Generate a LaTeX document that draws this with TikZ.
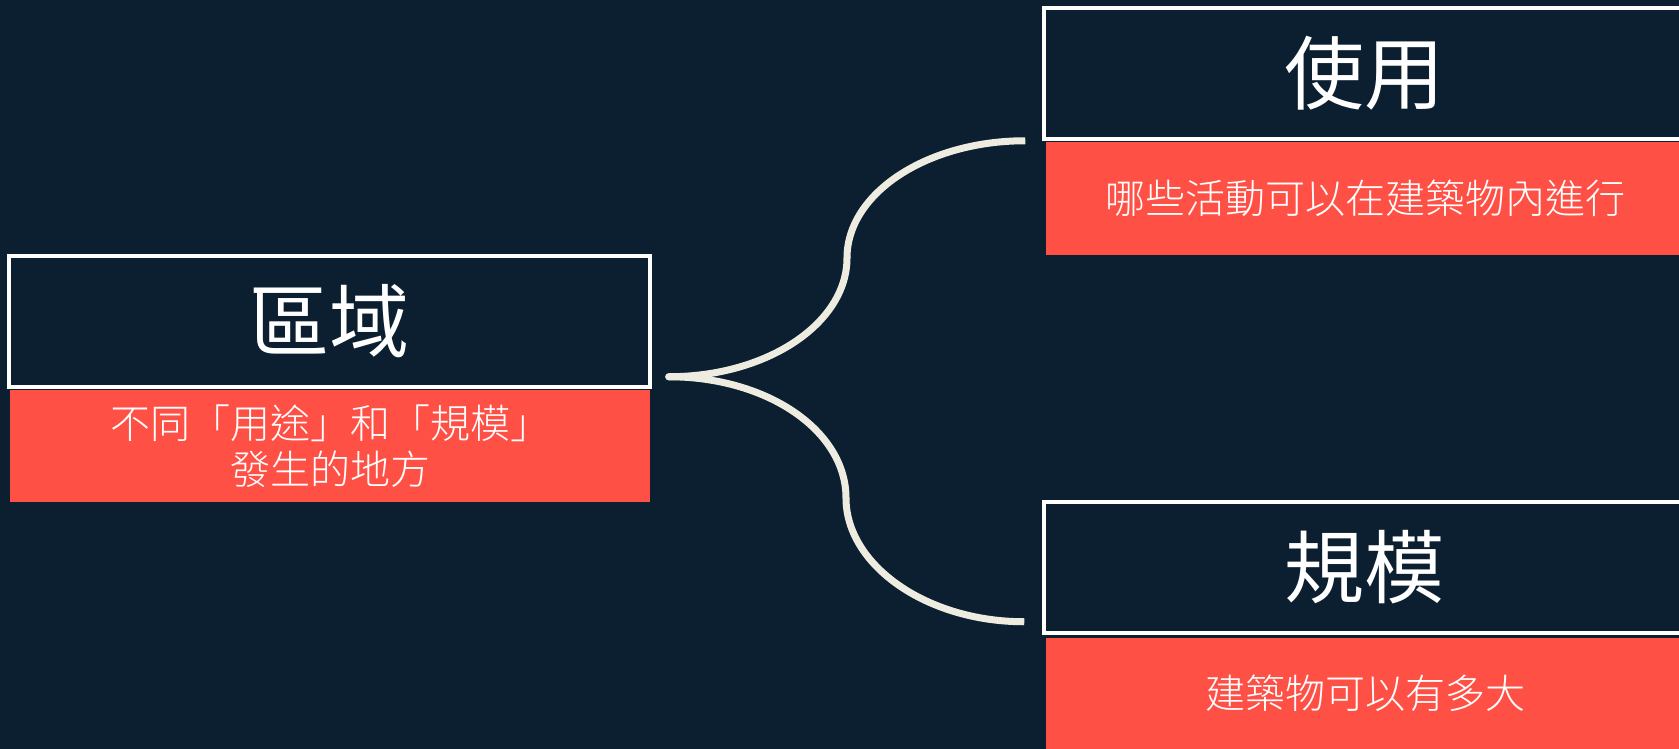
\documentclass[tikz,border=0pt]{standalone}
\usepackage{fontspec}
\usetikzlibrary{calc}
\newfontfamily\cjk{Noto Sans CJK TC}
\newfontfamily\cjklight{Noto Sans CJK TC Light}
\definecolor{bgc}{HTML}{0B1F30}
\definecolor{redc}{HTML}{FF5046}
\definecolor{linec}{HTML}{EEEBE0}
\begin{document}
\begin{tikzpicture}[x=1pt,y=-1pt,
  titlebox/.style={draw=white,line width=3.5pt,fill=bgc,minimum width=641pt,minimum height=131pt,inner sep=0pt,text=white,font=\cjk\fontsize{80}{86}\selectfont},
  subbox/.style={fill=redc,minimum width=640pt,minimum height=112pt,inner sep=0pt,text=white,align=center,font=\cjklight\fontsize{40}{46}\selectfont},
  branch/.style={draw=linec,line width=7pt}]
\fill[bgc] (0,0) rectangle (1679,749);
\useasboundingbox (0,0) rectangle (1679,749);
% left
\node[subbox] (Ls) at (330,446) {不同「用途」和「規模」\\發生的地方};
\node[titlebox] (L) at (329.5,321.5) {區域};
% top right
\node[subbox] (Us) at (1365.5,198.5) {哪些活動可以在建築物內進行};
\node[titlebox] (U) at (1364.5,73.5) {使用};
% bottom right
\node[subbox] (Bs) at (1365.5,693.5) {建築物可以有多大};
\node[titlebox] (B) at (1364.5,567.5) {規模};
% connectors
\coordinate (hub) at ($(L.south east)+(17,-12)$);
\coordinate (ue) at ($(U.south west)+(-17,0)$);
\coordinate (be) at ($(B.south west)+(-18,-13)$);
\coordinate (um) at (847,258);
\coordinate (bm) at (846,498);
\draw[branch,line cap=round] (hub) .. controls ($(hub)+(99,0)$) and ($(um)+(0,65)$) .. (um);
\draw[branch] (um) .. controls ($(um)+(0,-65)$) and ($(ue)+(-98,0)$) .. (ue);
\draw[branch,line cap=round] (hub) .. controls ($(hub)+(99,0)$) and ($(bm)+(0,-67)$) .. (bm);
\draw[branch] (bm) .. controls ($(bm)+(0,67)$) and ($(be)+(-98,0)$) .. (be);
\end{tikzpicture}
\end{document}
